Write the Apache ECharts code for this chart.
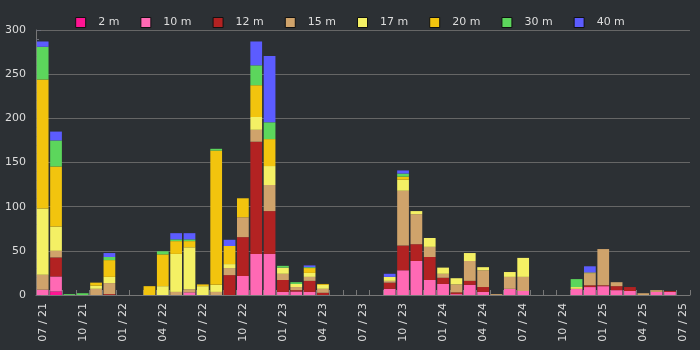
<!DOCTYPE html>
<html><head><meta charset="utf-8">
<script src="https://cdn.jsdelivr.net/npm/echarts@6/dist/echarts.min.js"></script>
<style>html,body{margin:0;padding:0;background:#2c3034;}#c{width:700px;height:350px;}</style>
</head><body><div id="c"></div>
<script>
const categories = ['07 / 21','08 / 21','09 / 21','10 / 21','11 / 21','12 / 21','01 / 22','02 / 22','03 / 22','04 / 22','05 / 22','06 / 22','07 / 22','08 / 22','09 / 22','10 / 22','11 / 22','12 / 22','01 / 23','02 / 23','03 / 23','04 / 23','05 / 23','06 / 23','07 / 23','08 / 23','09 / 23','10 / 23','11 / 23','12 / 23','01 / 24','02 / 24','03 / 24','04 / 24','05 / 24','06 / 24','07 / 24','08 / 24','09 / 24','10 / 24','11 / 24','12 / 24','01 / 25','02 / 25','03 / 25','04 / 25','05 / 25','06 / 25','07 / 25'];
const seriesNames = ['2 m','10 m','12 m','15 m','17 m','20 m','30 m','40 m'];
const seriesColors = ['#ff1493','#ff69b4','#b22222','#cfa36b','#f4f064','#f2c40e','#5cd65c','#5c5cff'];
const m2  = [0,4,0,0,0,0,0,0,0,0,0,0,0,0,0,0,0,0,0,0,0,0,0,0,0,0,0,0,0,0,0,0,0,0,0,0,0,0,0,0,0,0,0,0,0,0,0,0,0];
const m10 = [6,17,0,0,0,0,0,0,0,0,0,3,0,0,0,21.5,46.5,46.5,3.5,4,3.5,0,0,0,0,0,7,28,38.5,17,12.5,1,11.5,3.5,0,7,4.5,0,0,0,7,9,10,5.5,4.5,0,3.5,3.5,0];
const m12 = [0,21.5,0,0,0,1,0,0,0,0,0,0,0,0,22.5,44,127,48.5,13.5,1.5,12.5,2.5,0,0,0,0,7,28,19,26,7,2,4.5,5.5,0,0,0,0,0,0,0,2,1,4.5,4.5,0,0,1,0];
const m15 = [17,7.5,0,0,7,12.5,0,0,0,0,3.5,3.5,0,3.5,8,22.5,13.5,29.5,7,3.5,4.5,4.5,0,0,0,0,2,62,34,11.5,4.5,9,22.5,19,1,13.5,16,0,0,0,0,13.5,41,4.5,0,2,2,0,0];
const m17 = [75,27.5,0,0,3.5,7,0,0,0,10,43,47.5,10,8,4.5,0,14.5,21.5,7,3.5,4.5,4.5,0,0,0,0,4.5,12.5,3.5,10,7,7,9,3.5,0,5.5,21.5,0,0,0,2,1,0,0,0,0,0,0,0];
const m20 = [146,68,0,0,3.5,19,0,0,10,36,14.5,7,2,152,20.5,21.5,36,30.5,0,0,5.5,1,0,0,0,0,0,3.5,0,0,0,0,0,0,0,0,0,0,0,0,0,0,0,0,0,0,0,0,0];
const m30 = [37,29.5,1,2,0,3.5,0,0,0,3.5,2,2,0,2,0,0,22.5,19,2,2,1,0,0,0,0,0,0,3.5,0,0,0,0,0,0,0,0,0,0,0,0,9,0,0,0,0,0,0,0,0];
const m40 = [6,10,0,0,0,4.5,0,0,0,0,7,7,0,0,7,0,27,75,0,0,2,0,0,0,0,0,3.5,3.5,0,0,0,0,0,0,0,0,0,0,0,0,0,7,0,0,0,0,0,0,0];
const yTicks = {min: 0, max: 300, interval: 50};

const values = [m2, m10, m12, m15, m17, m20, m30, m40];
const chart = echarts.init(document.getElementById('c'), null, {renderer: 'canvas'});
chart.setOption({
  backgroundColor: '#2c3034',
  animation: false,
  textStyle: {fontFamily: 'DejaVu Sans'},
  legend: {
    top: 12, left: 'center',
    icon: 'path://M0,0L10,0L10,10L0,10Z',
    itemWidth: 25, itemHeight: 10, itemGap: 21,
    itemStyle: {borderColor: '#111', borderWidth: 1},
    textStyle: {color: '#dddddd', fontSize: 11, fontFamily: 'DejaVu Sans'},
    data: seriesNames
  },
  grid: {left: 36, right: 10, top: 30, bottom: 55},
  xAxis: {
    type: 'category', data: categories,
    axisLine: {lineStyle: {color: '#777'}},
    axisTick: {show: true, inside: true, length: 5, interval: 0, lineStyle: {color: '#777'}},
    axisLabel: {interval: 2, rotate: 90, color: '#dddddd', fontSize: 11, margin: 8}
  },
  yAxis: {
    type: 'value', min: yTicks.min, max: yTicks.max, interval: yTicks.interval,
    axisLine: {show: true, lineStyle: {color: '#777'}},
    axisTick: {show: true, inside: true, length: 5, lineStyle: {color: '#6e7079'}},
    minorTick: {show: true, splitNumber: 5, length: 3, lineStyle: {color: '#6e7079'}},
    splitLine: {show: true, lineStyle: {color: '#666'}},
    axisLabel: {color: '#dddddd', fontSize: 11, margin: 10}
  },
  series: seriesNames.map((n, i) => ({
    name: n, type: 'bar', stack: 'total',
    barCategoryGap: '12%',
    itemStyle: {color: seriesColors[i]},
    data: values[i]
  }))
});
</script></body></html>
